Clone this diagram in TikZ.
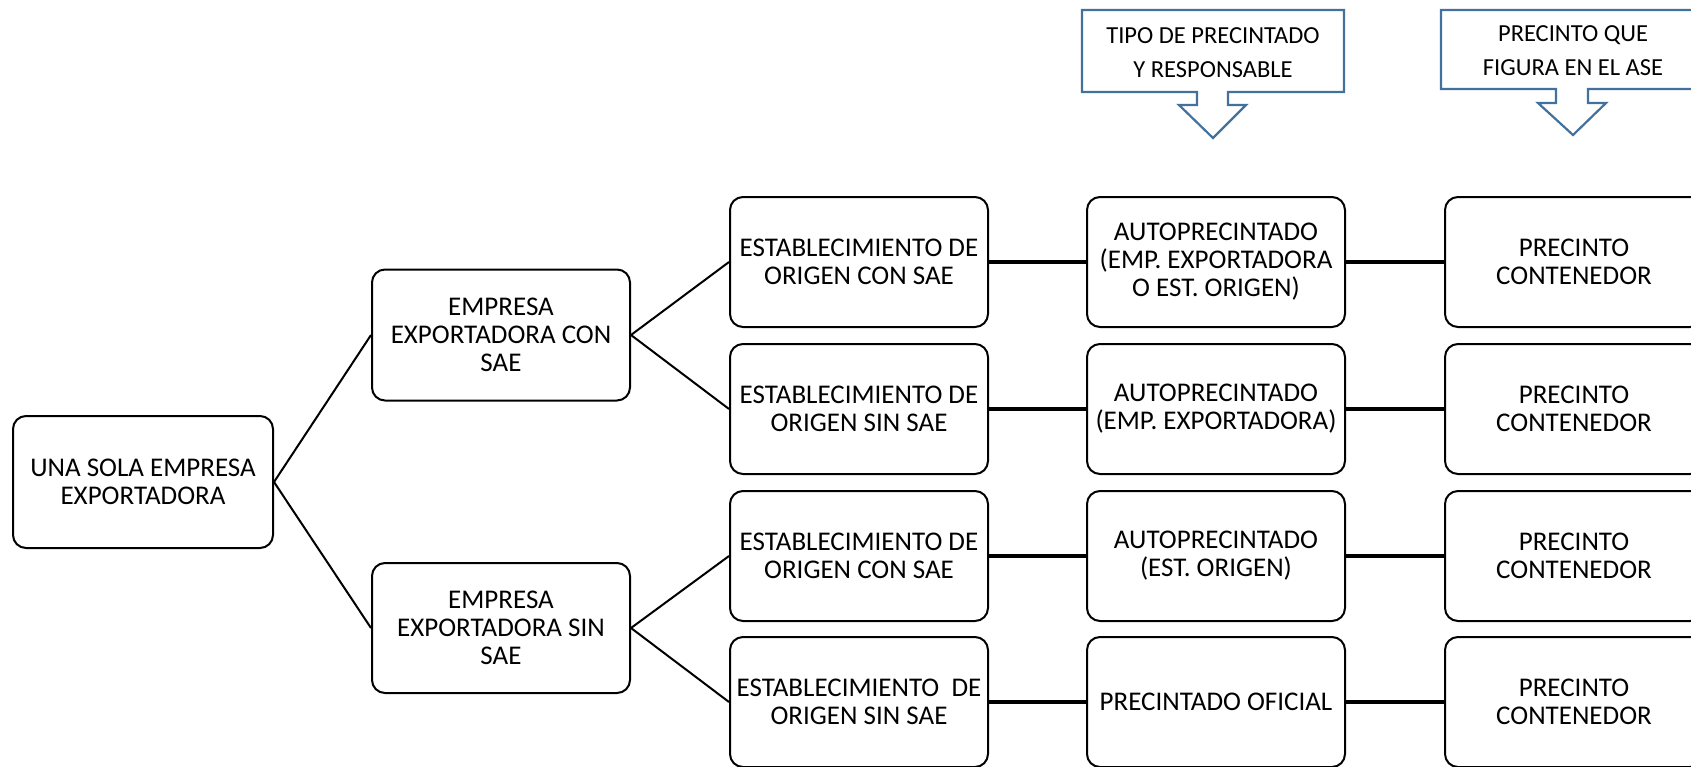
\documentclass[tikz,border=0pt]{standalone}
\usepackage{fontspec}
\setmainfont{Carlito}
\definecolor{callblue}{HTML}{41719C}
\begin{document}
\begin{tikzpicture}[x=1pt,y=-1pt,
  box/.style={draw=black,line width=2pt,rounded corners=13pt,fill=white,
    minimum width=258pt,minimum height=130pt,align=center,inner sep=2pt,
    font=\fontsize{27}{28}\selectfont},
  conn/.style={draw=black,line width=2pt},
  thick conn/.style={draw=black,line width=3.6pt},
  callout/.style={draw=callblue,line width=2.2pt,fill=white,line join=miter},
  calltext/.style={align=center,inner sep=0pt,font=\fontsize{24.5}{34}\selectfont}]
\useasboundingbox (0,0) rectangle (1691,766);
% callouts
\draw[callout] (1082,10) -- (1344,10) -- (1344,92) -- (1228,92) -- (1228,105) -- (1246,105)
  -- (1213,138) -- (1179,105) -- (1197,105) -- (1197,92) -- (1082,92) -- cycle;
\node[calltext] (c1) at (1213,53) {TIPO DE PRECINTADO\\Y RESPONSABLE};
\draw[callout] (1441,10) -- (1705,10) -- (1705,89) -- (1588,89) -- (1588,103) -- (1606,103)
  -- (1573,135) -- (1538,103) -- (1556,103) -- (1556,89) -- (1441,89) -- cycle;
\node[calltext] (c2) at (1573,51) {PRECINTO QUE\\FIGURA EN EL ASE};
% boxes
\node[box,minimum width=260pt,minimum height=132pt] (r) at (143,482) {UNA SOLA EMPRESA\\EXPORTADORA};
\node[box,minimum height=131pt] (a) at (501,335) {EMPRESA\\EXPORTADORA CON\\SAE};
\node[box] (b) at (501,628) {EMPRESA\\EXPORTADORA SIN\\SAE};
\node[box] (a1) at (859,262) {ESTABLECIMIENTO DE\\ORIGEN CON SAE};
\node[box] (a2) at (859,409) {ESTABLECIMIENTO DE\\ORIGEN SIN SAE};
\node[box] (b1) at (859,556) {ESTABLECIMIENTO DE\\ORIGEN CON SAE};
\node[box] (b2) at (859,702) {ESTABLECIMIENTO~ DE\\ORIGEN SIN SAE};
\node[box] (a1p) at (1216,262) {AUTOPRECINTADO\\(EMP. EXPORTADORA\\O EST. ORIGEN)};
\node[box] (a2p) at (1216,409) {AUTOPRECINTADO\\(EMP. EXPORTADORA)};
\node[box] (b1p) at (1216,556) {AUTOPRECINTADO\\(EST. ORIGEN)};
\node[box] (b2p) at (1216,702) {PRECINTADO OFICIAL};
\node[box] (a1c) at (1574,262) {PRECINTO\\CONTENEDOR};
\node[box] (a2c) at (1574,409) {PRECINTO\\CONTENEDOR};
\node[box] (b1c) at (1574,556) {PRECINTO\\CONTENEDOR};
\node[box] (b2c) at (1574,702) {PRECINTO\\CONTENEDOR};
% connectors
\draw[conn] (r.east) -- (a.west);
\draw[conn] (r.east) -- (b.west);
\draw[conn] (a.east) -- (a1.west);
\draw[conn] (a.east) -- (a2.west);
\draw[conn] (b.east) -- (b1.west);
\draw[conn] (b.east) -- (b2.west);
\draw[thick conn] (a1.east) -- (a1p.west);
\draw[thick conn] (a2.east) -- (a2p.west);
\draw[thick conn] (b1.east) -- (b1p.west);
\draw[thick conn] (b2.east) -- (b2p.west);
\draw[thick conn] (a1p.east) -- (a1c.west);
\draw[thick conn] (a2p.east) -- (a2c.west);
\draw[thick conn] (b1p.east) -- (b1c.west);
\draw[thick conn] (b2p.east) -- (b2c.west);
\end{tikzpicture}
\end{document}
